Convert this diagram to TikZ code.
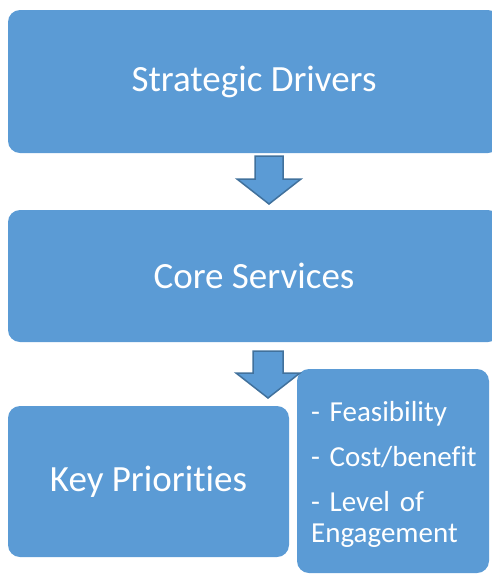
\documentclass[tikz,border=0pt]{standalone}
\usepackage{fontspec}
\setmainfont{Carlito}[Ligatures=NoCommon]
\definecolor{boxblue}{HTML}{5B9BD5}
\definecolor{edgeblue}{HTML}{41719C}
\tikzset{
  box/.style={fill=boxblue, rounded corners=12pt, text=white, inner sep=0pt},
  bigtext/.style={font=\fontsize{37}{40}\selectfont},
  blockarrow/.style={fill=boxblue, draw=edgeblue, line width=1.5pt, line join=miter}
}
\begin{document}
\begin{tikzpicture}[x=1pt, y=-1pt]
    \useasboundingbox (0,0) rectangle (491,574);
    % the two wide boxes run off the right edge
    \node[box, bigtext, minimum width=492pt, minimum height=143pt] (drivers) at (254,81.5) {\raisebox{-2pt}{Strategic Drivers}};
    \node[box, bigtext, minimum width=492pt, minimum height=132pt] (services) at (254,276) {Core Services};
    \node[box, bigtext, minimum width=281pt, minimum height=151pt] (priorities) at (148.5,481.5) {Key Priorities};
    \node[box, minimum width=192pt, minimum height=204pt] (criteria) at (393,471) {};
    \node[text=white, inner sep=0pt, anchor=base west, text width=176pt, align=left,
          font=\fontsize{29}{31}\selectfont] (criterialist) at (311,421)
          {- Feasibility\\[14pt]- Cost/benefit\\[14pt]- Level of\\Engagement};
    % block arrows between the boxes
    \coordinate (a1) at (269,156);
    \coordinate (a2) at (268,351);
    \draw[blockarrow] (a1) ++(-14,0) -- ++(28,0) -- ++(0,23) -- ++(18,0) -- ++(-32,25) -- ++(-32,-25) -- ++(18,0) -- cycle;
    \draw[blockarrow] (a2) ++(-15,0) -- ++(30,0) -- ++(0,22) -- ++(17,0) -- ++(-32,25) -- ++(-32,-25) -- ++(17,0) -- cycle;
\end{tikzpicture}
\end{document}
